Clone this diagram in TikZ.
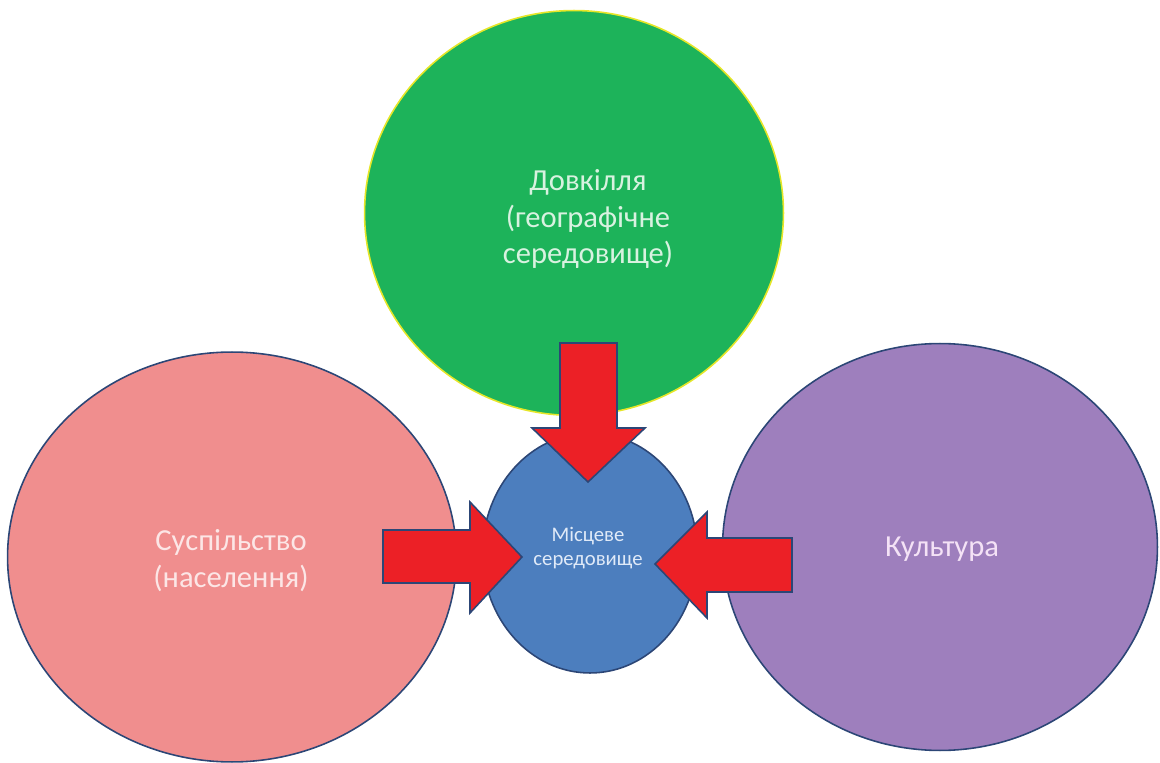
\documentclass[tikz,border=0pt]{standalone}
\usepackage{fontspec}
\setmainfont{Carlito}
\usetikzlibrary{shapes.geometric}
\definecolor{greenfill}{RGB}{29,179,90}
\definecolor{greenline}{RGB}{230,230,40}
\definecolor{pinkfill}{RGB}{240,142,142}
\definecolor{purplefill}{RGB}{158,127,189}
\definecolor{bluefill}{RGB}{76,126,190}
\definecolor{navyline}{RGB}{44,70,118}
\definecolor{redfill}{RGB}{236,32,38}
\definecolor{greentext}{RGB}{216,242,224}
\definecolor{pinktext}{RGB}{252,230,230}
\definecolor{purpletext}{RGB}{244,226,246}
\definecolor{bluetext}{RGB}{224,234,248}
\tikzset{
  bubble/.style={ellipse, draw=navyline, line width=0.9pt, inner sep=0pt, align=center},
  bigtext/.style={font=\fontsize{17.4}{21}\selectfont},
  smalltext/.style={font=\fontsize{11.8}{13.4}\selectfont},
  blockarrow/.style={fill=redfill, draw=navyline, line width=0.9pt, line join=miter}
}
\begin{document}
\begin{tikzpicture}[x=0.02cm,y=-0.02cm]
\useasboundingbox (0,0) rectangle (1160,763);
% outer bubbles
\node[bubble, draw=greenline, fill=greenfill, minimum width=8.38cm, minimum height=8.1cm] (env) at (574,213) {};
\node[bubble, fill=pinkfill, minimum width=8.98cm, minimum height=8.2cm] (soc) at (232,557) {};
\node[bubble, fill=purplefill, minimum width=8.7cm, minimum height=8.14cm] (cul) at (940,547) {};
\node[bubble, fill=bluefill, minimum width=4.3cm, minimum height=4.8cm] (loc) at (590,553) {};
% labels
\node[bigtext, text=greentext, align=center] (envtext) at (588,219) {Довкілля\\(географічне\\середовище)};
\node[bigtext, text=pinktext, align=center] (soctext) at (231,561) {Суспільство\\(населення)};
\node[bigtext, text=purpletext] (cultext) at (942,549) {Культура};
\node[smalltext, text=bluetext, align=center] (loctext) at (588,548) {Місцеве\\середовище};
% block arrows
\draw[blockarrow] (560,343) -- (617,343) -- (617,428) -- (645,428) -- (588,482) -- (532,428) -- (560,428) -- cycle;
\draw[blockarrow] (383,530) -- (470,530) -- (470,502) -- (522,557) -- (470,613) -- (470,583) -- (383,583) -- cycle;
\draw[blockarrow] (792,538) -- (707,538) -- (707,512) -- (655,564) -- (707,618) -- (707,592) -- (792,592) -- cycle;
\end{tikzpicture}
\end{document}
